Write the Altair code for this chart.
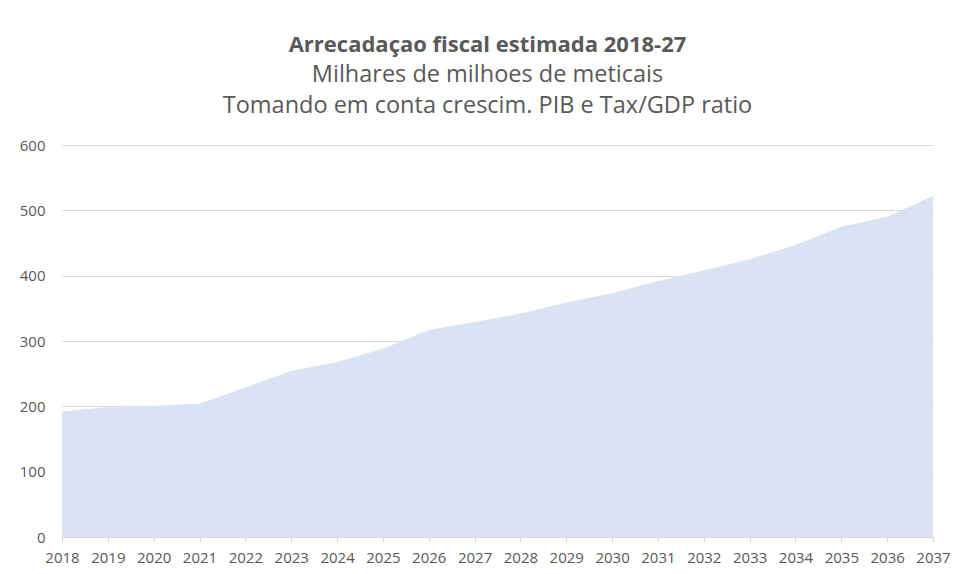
import altair as alt
import pandas as pd

years = [str(y) for y in range(2018, 2038)]
values = [192, 199, 201, 204, 229, 254, 268, 288, 317, 329,
          342, 359, 373, 392, 408, 425, 447, 475, 490, 522]

df = pd.DataFrame({"Ano": years, "Valor": values})

TEXT = "#595959"
FONT = "Open Sans"

chart = alt.Chart(df).mark_area(color="#DAE3F3", opacity=1).encode(
    x=alt.X("Ano:O", scale=alt.Scale(type="point", padding=0),
            axis=alt.Axis(title=None, labelAngle=0, labelColor=TEXT, labelFont=FONT,
                          labelFontSize=15, domainColor="#D9D9D9", tickColor="#D9D9D9",
                          tickSize=5, labelPadding=8, grid=False)),
    y=alt.Y("Valor:Q", scale=alt.Scale(domain=[0, 600]),
            axis=alt.Axis(title=None, values=[0, 100, 200, 300, 400, 500, 600],
                          labelColor=TEXT, labelFont=FONT, labelFontSize=15,
                          domain=False, ticks=False, labelPadding=17,
                          gridColor="#D9D9D9", gridWidth=1)),
).properties(
    width=871,
    height=392,
    background="white",
    autosize=alt.AutoSizeParams(type="none"),
    padding={"left": 54, "top": 137, "right": 22, "bottom": 36},
    title=alt.TitleParams(
        text="Arrecadaçao fiscal estimada 2018-27",
        subtitle=["Milhares de milhoes de meticais",
                  "Tomando em conta crescim. PIB e Tax/GDP ratio"],
        anchor="middle", frame="group", dx=-10,
        font=FONT, fontSize=22, fontWeight="bold", color=TEXT,
        subtitleFont=FONT, subtitleFontSize=23.5, subtitleColor=TEXT,
        subtitleLineHeight=31, subtitlePadding=6, offset=20,
    ),
).configure_view(stroke="transparent", strokeWidth=0)

chart.save("out.html", embed_options={"renderer": "svg", "actions": False})
